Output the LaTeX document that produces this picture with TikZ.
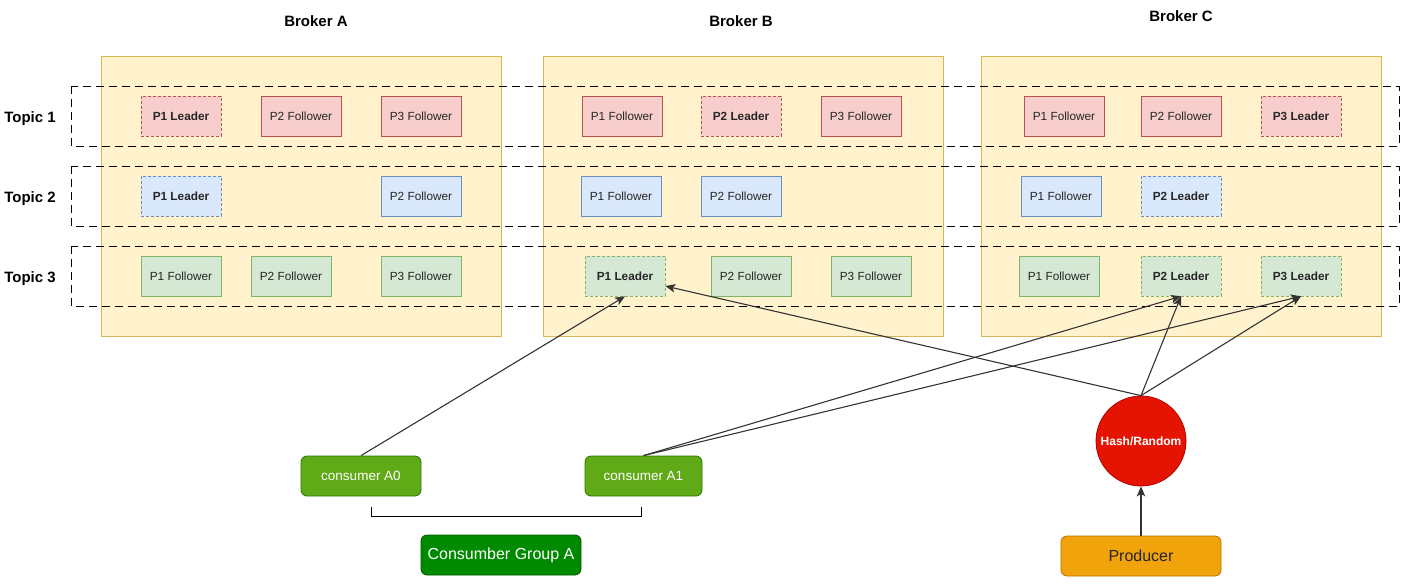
\documentclass[tikz,border=0pt]{standalone}
\usepackage{fontspec}
\setmainfont{Liberation Sans}
\usetikzlibrary{arrows.meta}
\definecolor{brokerfill}{HTML}{FFF2CC}
\definecolor{brokerline}{HTML}{D6B656}
\definecolor{tafill}{HTML}{F8CECC}
\definecolor{taline}{HTML}{B85450}
\definecolor{tbfill}{HTML}{DAE8FC}
\definecolor{tbline}{HTML}{6C8EBF}
\definecolor{tcfill}{HTML}{D5E8D4}
\definecolor{tcline}{HTML}{82B366}
\definecolor{consfill}{HTML}{60A917}
\definecolor{consline}{HTML}{2D7600}
\definecolor{grpfill}{HTML}{008A00}
\definecolor{grpline}{HTML}{005700}
\definecolor{hashfill}{HTML}{E51400}
\definecolor{hashline}{HTML}{B20000}
\definecolor{prodfill}{HTML}{F0A30A}
\definecolor{prodline}{HTML}{BD7000}

\begin{document}
\begin{tikzpicture}[x=1pt,y=-1pt,line width=0.8pt]
\tikzset{
  broker/.style={draw=brokerline,fill=brokerfill,minimum width=400pt,minimum height=280pt},
  title/.style={font=\fontsize{15}{18}\selectfont\bfseries},
  topicrow/.style={line width=0.9pt,dash pattern=on 8pt off 5pt},
  part/.style={minimum width=80pt,minimum height=40pt,inner sep=0pt,text=black!85,
    font=\fontsize{11.8}{14}\selectfont},
  foll/.style={part,draw},
  lead/.style={part,draw,line width=0.6pt,dash pattern=on 3pt off 2pt,
    font=\fontsize{11.8}{14}\selectfont\bfseries},
  ta/.style={fill=tafill,draw=taline},
  tb/.style={fill=tbfill,draw=tbline},
  tc/.style={fill=tcfill,draw=tcline},
  cons/.style={draw=consline,fill=consfill,text=white,rounded corners=6pt,
    minimum height=40pt,inner sep=0pt,font=\fontsize{13.5}{16}\selectfont},
  flow/.style={-{Stealth[length=10pt,width=8.5pt,inset=2.5pt]},draw=black!80,line width=1.1pt}}
\useasboundingbox (0,0) rectangle (1402,584);
% ---------- brokers ----------
\node[broker] (brkA) at (301,196) {};
\node[broker] (brkB) at (743,196) {};
\node[broker] (brkC) at (1181,196) {};
\node[title] (ttlA) at (316,21) {Broker A};
\node[title] (ttlB) at (741,21) {Broker B};
\node[title] (ttlC) at (1181,16) {Broker C};
% ---------- topic rows ----------
\draw[topicrow] (71,86) rectangle (1399,146);
\draw[topicrow] (71,166) rectangle (1399,226);
\draw[topicrow] (71,246) rectangle (1399,306);
\node[title] (tp1) at (30,119) {Topic 1};
\node[title] (tp2) at (30,199) {Topic 2};
\node[title] (tp3) at (30,279) {Topic 3};
% ---------- topic 1 ----------
\node[lead,ta] (a11) at (181,116) {P1 Leader};
\node[foll,ta] (a12) at (301,116) {P2 Follower};
\node[foll,ta] (a13) at (421,116) {P3 Follower};
\node[foll,ta] (b11) at (622,116) {P1 Follower};
\node[lead,ta] (b12) at (741,116) {P2 Leader};
\node[foll,ta] (b13) at (861,116) {P3 Follower};
\node[foll,ta] (c11) at (1064,116) {P1 Follower};
\node[foll,ta] (c12) at (1181,116) {P2 Follower};
\node[lead,ta] (c13) at (1301,116) {P3 Leader};
% ---------- topic 2 ----------
\node[lead,tb] (a21) at (181,196) {P1 Leader};
\node[foll,tb] (a22) at (421,196) {P2 Follower};
\node[foll,tb] (b21) at (621,196) {P1 Follower};
\node[foll,tb] (b22) at (741,196) {P2 Follower};
\node[foll,tb] (c21) at (1061,196) {P1 Follower};
\node[lead,tb] (c22) at (1181,196) {P2 Leader};
% ---------- topic 3 ----------
\node[foll,tc] (a31) at (181,276) {P1 Follower};
\node[foll,tc] (a32) at (291,276) {P2 Follower};
\node[foll,tc] (a33) at (421,276) {P3 Follower};
\node[lead,tc] (b31) at (625,276) {P1 Leader};
\node[foll,tc] (b32) at (751,276) {P2 Follower};
\node[foll,tc] (b33) at (871,276) {P3 Follower};
\node[foll,tc] (c31) at (1059,276) {P1 Follower};
\node[lead,tc] (c32) at (1181,276) {P2 Leader};
\node[lead,tc] (c33) at (1301,276) {P3 Leader};
% ---------- consumers ----------
\node[cons,minimum width=120pt] (ca0) at (361,476) {consumer A0};
\node[cons,minimum width=117pt] (ca1) at (643.5,476) {consumer A1};
\node[cons,draw=grpline,fill=grpfill,minimum width=160pt,font=\fontsize{16}{19}\selectfont]
  (grpA) at (501,555) {Consumber Group A};
\coordinate (brl) at (371,507);
\coordinate (brr) at (641,507);
\draw (brl) -- ++(0,9) -| (brr);
% ---------- producer ----------
\node[circle,draw=hashline,fill=hashfill,minimum size=90pt,inner sep=0pt,text=white,
  font=\fontsize{12}{14}\selectfont\bfseries] (hash) at (1141,441) {Hash/Random};
\node[cons,draw=prodline,fill=prodfill,text=black!85,minimum width=160pt,
  font=\fontsize{16}{19}\selectfont] (prod) at (1141,556) {Producer};
% ---------- connectors ----------
\draw[flow] (ca0.north) -- (b31.south);
\draw[flow] (hash.north) -- (b31.-14);
\draw[flow] (ca1.north) -- (c32.south);
\draw[flow] (ca1.north) -- (c33.south);
\draw[flow] (hash.north) -- (c32.south);
\draw[flow] (hash.north) -- (c33.south);
\draw[flow] (prod.north) -- (hash.south);
\end{tikzpicture}
\end{document}
